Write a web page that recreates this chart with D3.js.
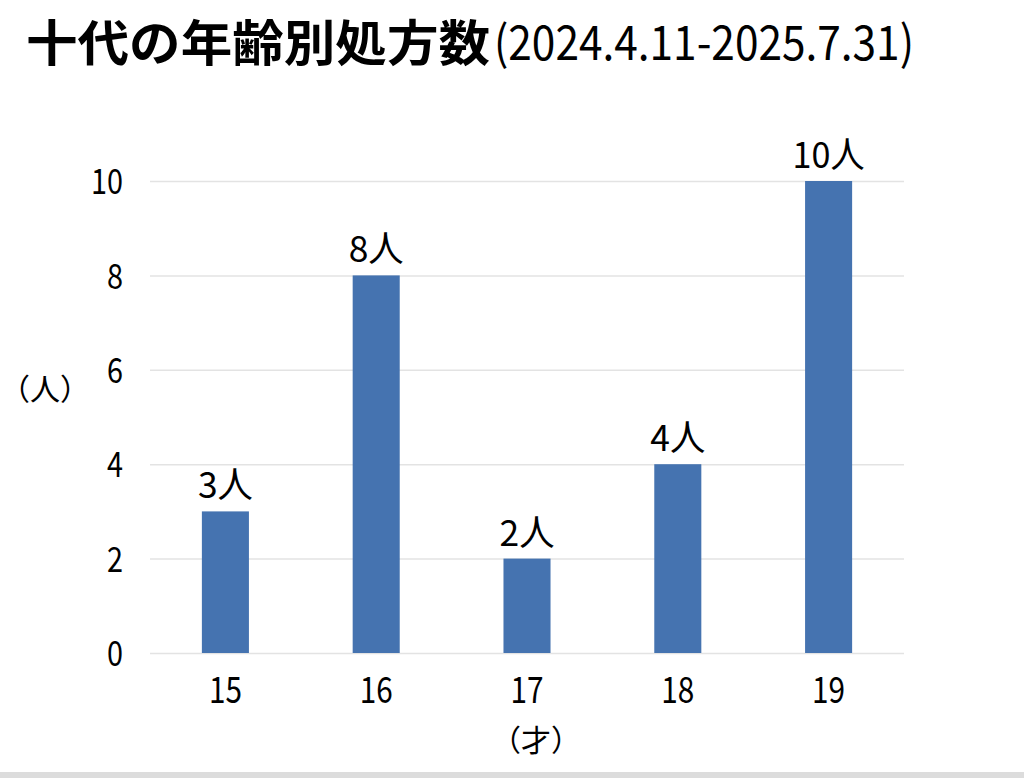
<!DOCTYPE html>
<html><head><meta charset="utf-8">
<script src="https://cdn.jsdelivr.net/npm/d3@7"></script>
<style>
body{margin:0;background:#fff;}
svg{display:block;}
text{font-family:"Noto Sans CJK JP","Noto Sans",sans-serif;fill:#000;}
</style></head>
<body>
<script>
const categories = ["15","16","17","18","19"];
const values = [3,8,2,4,10];
const yTicks = [0,2,4,6,8,10];
const titleMain = "十代の年齢別処方数";
const titleSub = "(2024.4.11-2025.7.31)";
const unitLabel = "人";
const yAxisTitle = "（人）";
const xAxisTitle = "（才）";

const W = 1024, H = 778;
const m = {left:150, right:120, top:181, bottom:125};
const svg = d3.select("body").append("svg").attr("width",W).attr("height",H);

svg.append("rect").attr("x",0).attr("y",772).attr("width",W).attr("height",6).attr("fill","#dcdcdc");

const x = d3.scaleBand().domain(categories).range([m.left, W-m.right]).paddingInner(0.688).paddingOuter(0.344);
const y = d3.scaleLinear().domain([0,10]).range([H-m.bottom, m.top]);

// gridlines + y axis
const ya = svg.append("g").attr("transform",`translate(${m.left},0)`)
  .call(d3.axisLeft(y).tickValues(yTicks).tickSize(-(W-m.right-m.left)).tickPadding(27));
ya.select(".domain").remove();
ya.selectAll(".tick line").attr("stroke","#e3e3e3").attr("stroke-width",1.5);
ya.selectAll(".tick text").style("font-size","35px").attr("dy","0.36em").attr("fill","#000")
  .attr("textLength", d => String(d).length*16).attr("lengthAdjust","spacingAndGlyphs");

// bars
svg.selectAll("rect.bar").data(values).join("rect").attr("class","bar")
  .attr("x",(d,i)=>x(categories[i])).attr("width",x.bandwidth())
  .attr("y",d=>y(d)).attr("height",d=>y(0)-y(d)).attr("fill","#4573b0");

// x axis
const xa = svg.append("g").attr("transform",`translate(0,${y(0)})`)
  .call(d3.axisBottom(x).tickSize(0));
xa.select(".domain").remove();
xa.selectAll(".tick text").style("font-size","37px").attr("fill","#000").attr("y",50).attr("dy",0)
  .attr("textLength", d => String(d).length*16.5).attr("lengthAdjust","spacingAndGlyphs");

// data labels
svg.selectAll("text.lbl").data(values).join("text").attr("class","lbl")
  .attr("x",(d,i)=>x(categories[i])+x.bandwidth()/2).attr("y",d=>y(d)-13)
  .attr("text-anchor","middle").style("font-size","36px")
  .attr("textLength", d => String(d).length*17 + 38).attr("lengthAdjust","spacingAndGlyphs")
  .text(d=>d+unitLabel);

// axis titles
svg.append("text").attr("x",0).attr("y",400).style("font-size","30px").text(yAxisTitle);
svg.append("text").attr("x",536).attr("y",751).attr("text-anchor","middle").style("font-size","30px").text(xAxisTitle);

// title
svg.append("text").attr("x",26).attr("y",61).style("font-size","49px").style("font-weight","bold")
  .attr("textLength",464).attr("lengthAdjust","spacingAndGlyphs").text(titleMain);
svg.append("text").attr("x",494).attr("y",60).style("font-size","47px")
  .attr("textLength",420).attr("lengthAdjust","spacingAndGlyphs").text(titleSub);
</script>
</body></html>
